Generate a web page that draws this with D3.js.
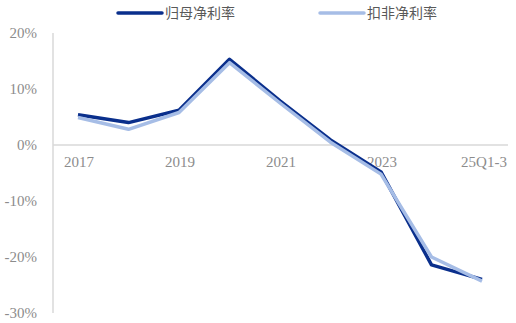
<!DOCTYPE html>
<html>
<head>
<meta charset="utf-8">
<title>净利率</title>
<script src="https://cdn.jsdelivr.net/npm/d3@7"></script>
<style>
body { margin: 0; background: #fff; }
</style>
</head>
<body>
<script>
// data (%)
var categories = ["2017", "2018", "2019", "2020", "2021", "2022", "2023", "2024", "25Q1-3"];
var tickLabels = ["2017", "2019", "2021", "2023", "25Q1-3"];
var guimu = [5.4, 4.0, 6.2, 15.3, 7.9, 0.9, -4.8, -21.4, -24.0];
var koufei = [4.9, 2.8, 5.8, 14.7, 7.5, 0.5, -5.2, -20.0, -24.3];
var seriesNames = ["归母净利率", "扣非净利率"];
var yTicks = [20, 10, 0, -10, -20, -30];

var w = 516, h = 323;
var colors = ["#0a2f8c", "#a6bde6"];

var svg = d3.select("body").append("svg")
    .attr("width", w)
    .attr("height", h);

var x = d3.scalePoint()
    .domain(categories)
    .range([78, 482]);

var y = d3.scaleLinear()
    .domain([-30, 20])
    .range([313, 33]);

// y tick labels
svg.selectAll("text.ytick")
    .data(yTicks)
    .enter()
    .append("text")
    .attr("class", "ytick")
    .attr("x", 37)
    .attr("y", function(d) { return y(d); })
    .attr("dy", "0.35em")
    .attr("text-anchor", "end")
    .attr("font-family", "Liberation Serif, serif")
    .attr("font-size", "15px")
    .attr("fill", "#8c8c8c")
    .text(function(d) { return d + "%"; });

// axis lines
svg.append("line")
    .attr("x1", 53).attr("x2", 53)
    .attr("y1", y(20)).attr("y2", y(-30))
    .attr("stroke", "#d9d9d9")
    .attr("stroke-width", 1.5);

svg.append("line")
    .attr("x1", 53).attr("x2", 508)
    .attr("y1", y(0)).attr("y2", y(0))
    .attr("stroke", "#d9d9d9")
    .attr("stroke-width", 1.5);

// x labels
svg.selectAll("text.xtick")
    .data(tickLabels)
    .enter()
    .append("text")
    .attr("class", "xtick")
    .attr("x", function(d) {
        return d === "25Q1-3" ? x(d) + 2 : x(d) + 1;
    })
    .attr("y", y(0) + 17)
    .attr("dy", "0.35em")
    .attr("text-anchor", "middle")
    .attr("font-family", "Liberation Serif, serif")
    .attr("font-size", "15px")
    .attr("fill", "#8c8c8c")
    .text(function(d) { return d; });

var line = d3.line()
    .x(function(d, i) { return x(categories[i]); })
    .y(function(d) { return y(d); });

[guimu, koufei].forEach(function(s, i) {
    svg.append("path")
        .datum(s)
        .attr("d", line)
        .attr("fill", "none")
        .attr("stroke", colors[i])
        .attr("stroke-width", 3.5)
        .attr("stroke-linejoin", "round");
});

// legend
var legendX = [118, 320];
seriesNames.forEach(function(name, i) {
    svg.append("line")
        .attr("x1", legendX[i]).attr("x2", legendX[i] + 44)
        .attr("y1", 13).attr("y2", 13)
        .attr("stroke", colors[i])
        .attr("stroke-width", 3.5)
        .attr("stroke-linecap", "round");
    svg.append("text")
        .attr("x", legendX[i] + 47)
        .attr("y", 13)
        .attr("dy", "0.35em")
        .attr("font-family", "Noto Sans CJK SC, sans-serif")
        .attr("font-size", "14px")
        .attr("fill", "#595959")
        .text(name);
});
</script>
</body>
</html>
